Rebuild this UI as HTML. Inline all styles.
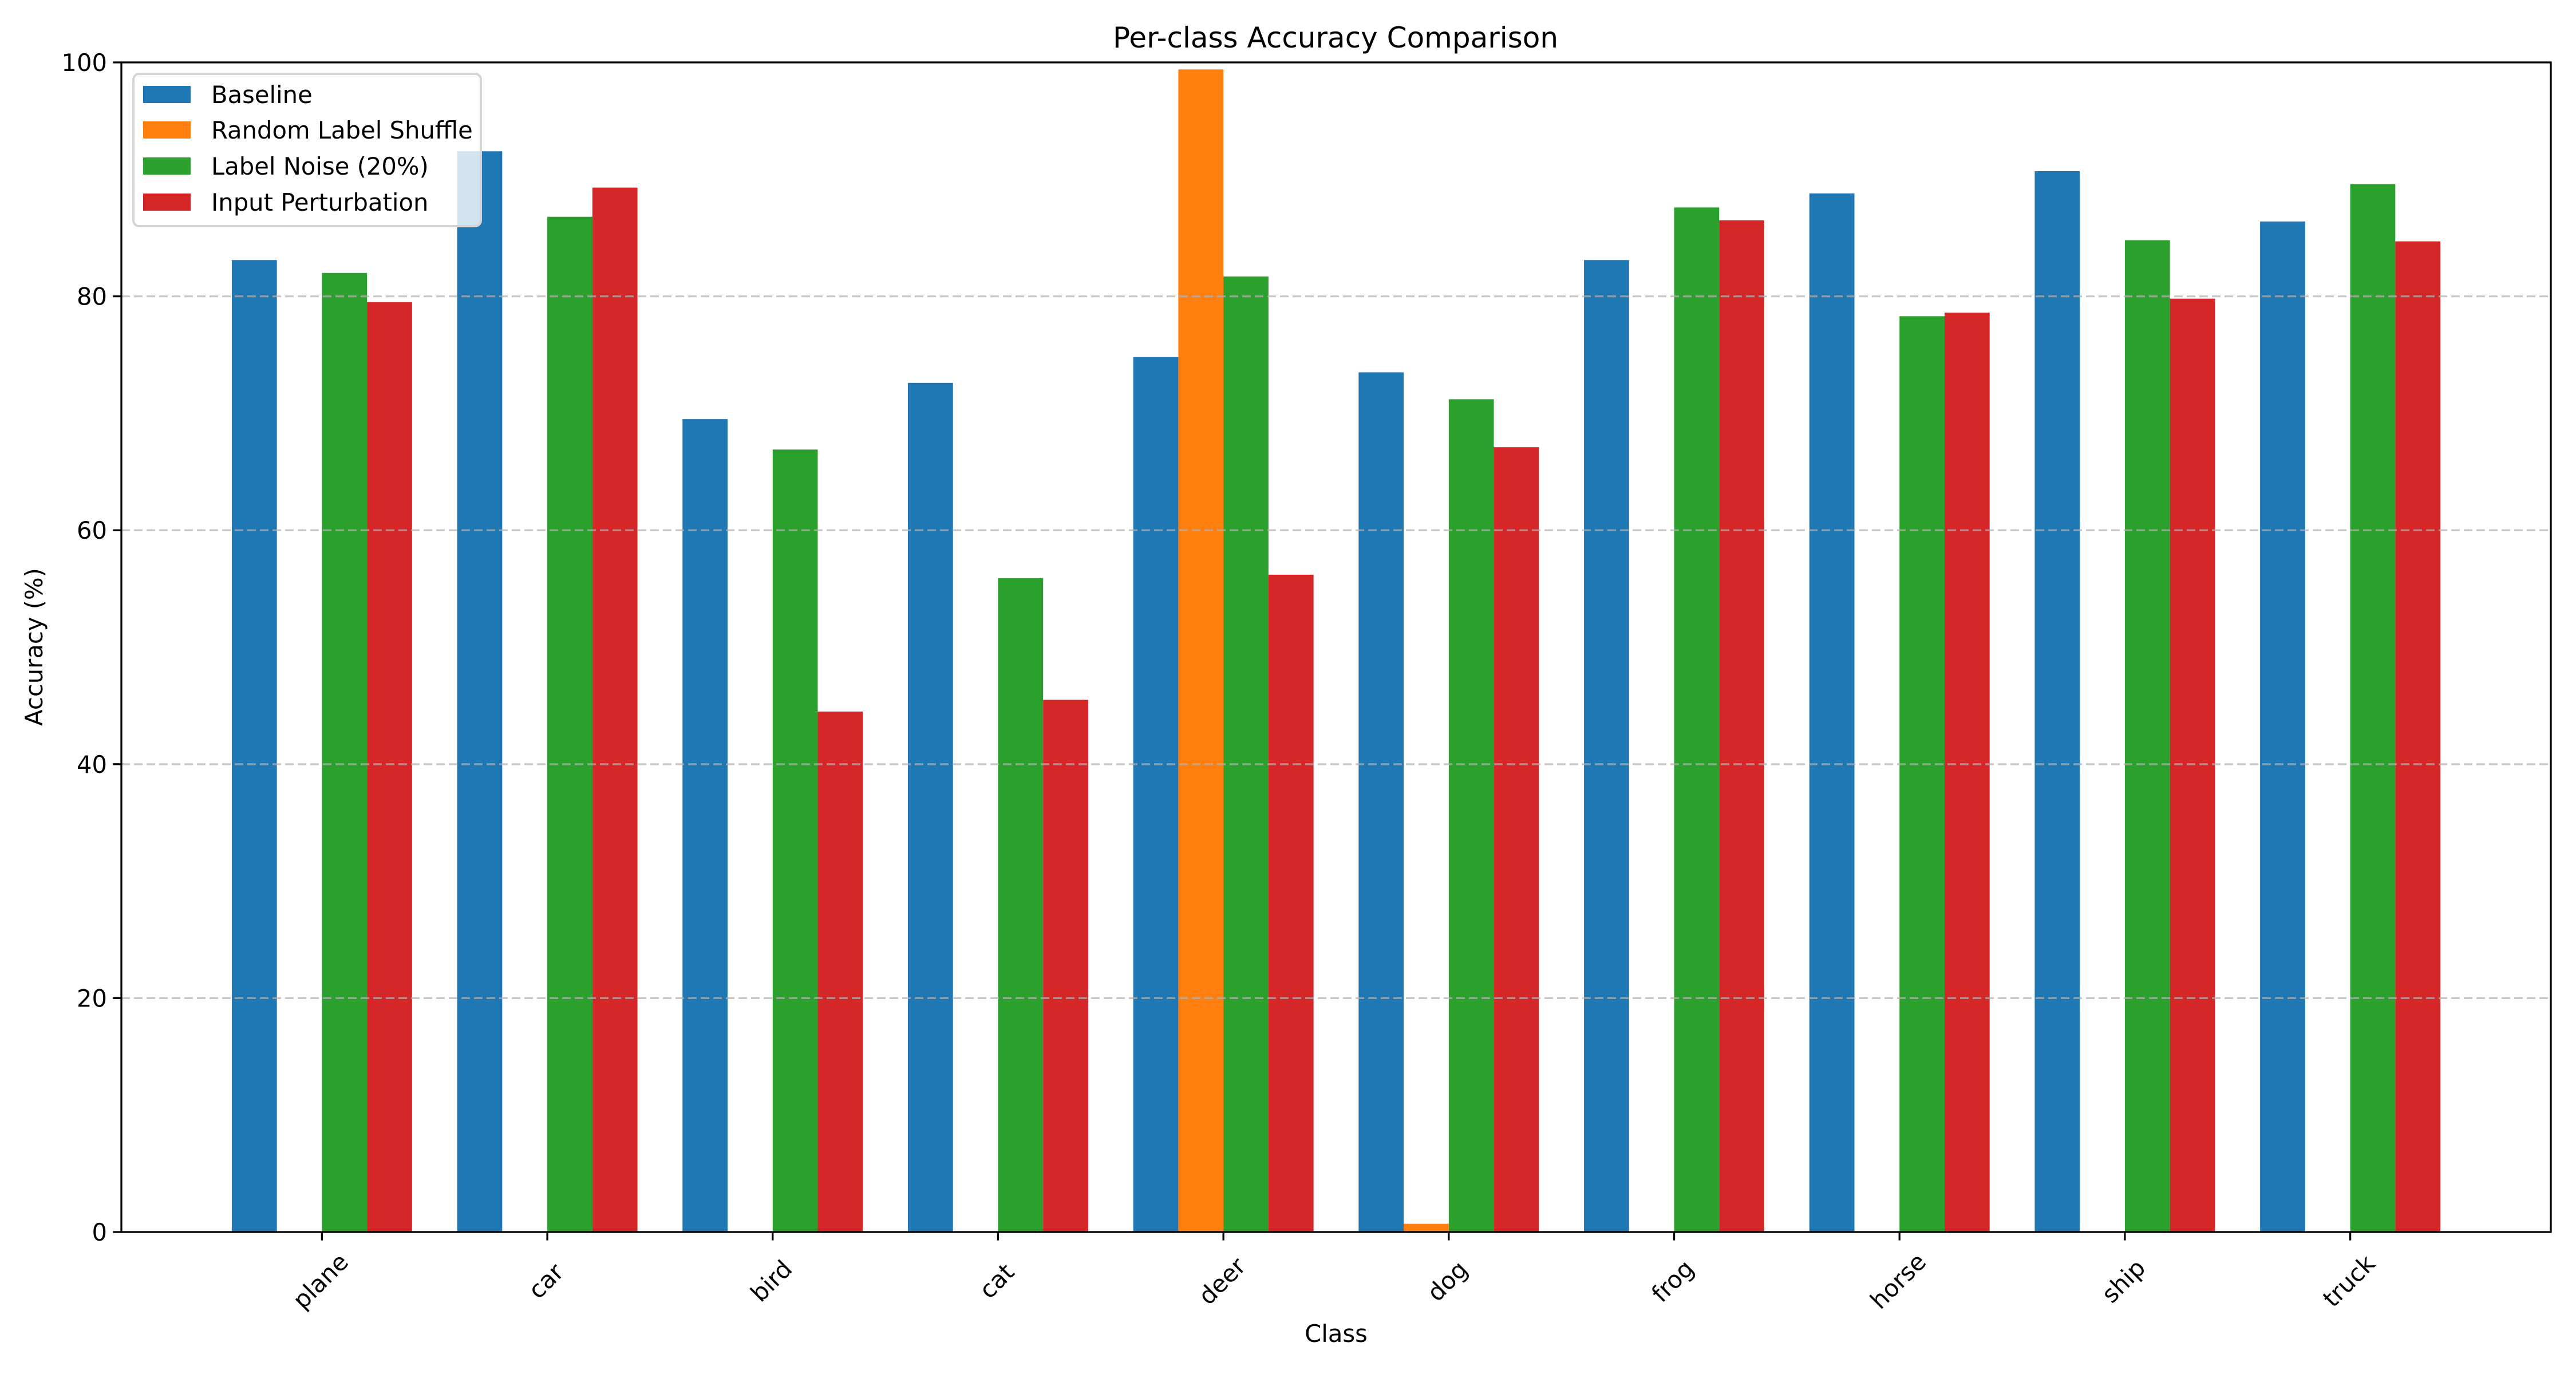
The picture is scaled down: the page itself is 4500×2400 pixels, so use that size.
<!DOCTYPE html>
<html><head><meta charset="utf-8"><style>
html,body{margin:0;padding:0;background:#fff;}
svg{display:block;font-family:"DejaVu Sans","Liberation Sans",sans-serif;}
</style></head><body>
<svg id="chart" width="4500" height="2400" viewBox="0 0 4500 2400" xmlns="http://www.w3.org/2000/svg">
<rect width="4500" height="2400" fill="#fff"/>
<text x="2333" y="83" font-size="50" text-anchor="middle">Per-class Accuracy Comparison</text>
<g id="bars"></g>
<g id="grid"></g>
<g id="axes"></g>
<text transform="translate(74,1130) rotate(-90)" font-size="41.7" text-anchor="middle">Accuracy (%)</text>
<text x="2334" y="2344" font-size="41.7" text-anchor="middle">Class</text>
<g>
<rect x="233" y="129" width="607" height="266" rx="10" fill="#fff" fill-opacity="0.8" stroke="#d5d5d5" stroke-width="4"/>
<rect x="250" y="150" width="83" height="30" fill="#1f77b4"/>
<text x="369" y="180" font-size="41.7">Baseline</text>
<rect x="250" y="212" width="83" height="30" fill="#ff7f0e"/>
<text x="369" y="242" font-size="41.7">Random Label Shuffle</text>
<rect x="250" y="275" width="83" height="30" fill="#2ca02c"/>
<text x="369" y="305" font-size="41.7">Label Noise (20%)</text>
<rect x="250" y="338" width="83" height="30" fill="#d62728"/>
<text x="369" y="368" font-size="41.7">Input Perturbation</text>
</g>
</svg>
<script>
const categories = ["plane","car","bird","cat","deer","dog","frog","horse","ship","truck"];
const baseline = [83.1,92.4,69.5,72.6,74.8,73.5,83.1,88.8,90.7,86.4];
const shuffle = [0,0,0,0,99.4,0.7,0,0,0,0];
const noise = [82.0,86.8,66.9,55.9,81.7,71.2,87.6,78.3,84.8,89.6];
const perturb = [79.5,89.3,44.5,45.5,56.2,67.1,86.5,78.6,79.8,84.7];
const yTicks = [0,20,40,60,80,100];

const NS="http://www.w3.org/2000/svg";
const L=212, R=4456, T=109, B=2152;
const xmin=-0.89, xmax=categories.length-1+0.89;
const xs=v=>L+(v-xmin)/(xmax-xmin)*(R-L);
const ys=v=>B-v/100*(B-T);
const series=[["baseline",baseline,"#1f77b4"],["shuffle",shuffle,"#ff7f0e"],["noise",noise,"#2ca02c"],["perturbation",perturb,"#d62728"]];
function mk(tag,attrs,parent){const e=document.createElementNS(NS,tag);for(const k in attrs)e.setAttribute(k,attrs[k]);parent.appendChild(e);return e;}
const gb=document.getElementById('bars');
series.forEach((s,si)=>{
  s[1].forEach((v,i)=>{
    const off=(si-1.5)*0.2;
    const x0=xs(i+off-0.1), x1=xs(i+off+0.1);
    const r=mk('rect',{x:x0,y:ys(v),width:x1-x0,height:ys(0)-ys(v),fill:s[2]},gb);
    
    
  });
});
const gg=document.getElementById('grid');
yTicks.forEach(t=>{
  if(t===0||t===100)return;
  const l=mk('line',{x1:L,x2:R,y1:ys(t),y2:ys(t),stroke:'#b0b0b0','stroke-opacity':0.7,'stroke-width':3.3,'stroke-dasharray':'15 7'},gg);
  
  
});
const ga=document.getElementById('axes');
const fr=mk('rect',{x:L,y:T,width:R-L,height:B-T,fill:'none',stroke:'#000','stroke-width':3.3},ga);


yTicks.forEach(t=>{
  mk('line',{x1:L-14.6,x2:L,y1:ys(t),y2:ys(t),stroke:'#000','stroke-width':3.3},ga);
  const tx=mk('text',{x:L-25,y:ys(t)+15,'font-size':41.7,'text-anchor':'end'},ga);
  tx.textContent=t;
  
  
});
categories.forEach((c,i)=>{
  const x=xs(i);
  mk('line',{x1:x,x2:x,y1:B,y2:B+14.6,stroke:'#000','stroke-width':3.3},ga);
  const tx=mk('text',{transform:`translate(${x},${B+88}) rotate(-45)`,'font-size':41.7,'text-anchor':'middle','dominant-baseline':'middle'},ga);
  tx.textContent=c;
  
  
});
</script>
</body></html>
